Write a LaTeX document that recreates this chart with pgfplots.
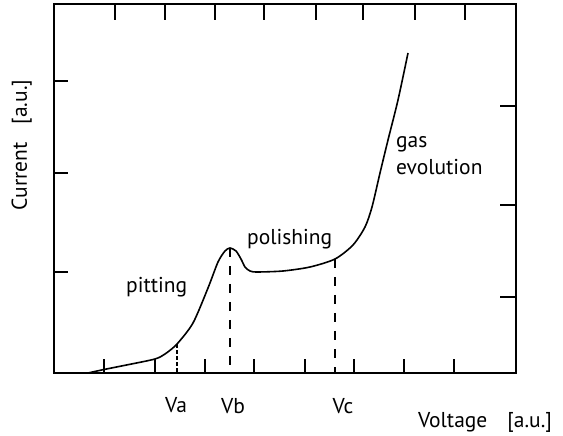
\documentclass[border=0pt]{standalone}
\usepackage{pgfplots}
\pgfplotsset{compat=1.18}
\usepackage{fontspec}
\setmainfont{PT Sans}
\begin{document}
\begin{tikzpicture}[font=\fontsize{21.5bp}{26bp}\selectfont]
\pgfplotsset{
  frame/.style={
    width=462bp, height=369bp, scale only axis,
    xmin=0, xmax=462, ymin=0, ymax=369,
    axis line style={line width=1.4bp},
    tick style={line width=1.4bp, black},
    tick align=inside,
    xticklabel=\empty, yticklabel=\empty,
    clip=false,
  },
}
% top and right ticks
\begin{axis}[frame,
  xtick pos=top, ytick pos=right,
  xtick={61,111,161,210,262,309,361,411},
  ytick={76,168,267},
  major tick length=16bp]
\end{axis}
% bottom and left ticks, curve and annotations
\begin{axis}[frame,
  xtick pos=bottom, ytick pos=left,
  xtick={50,101,151,200,251,300,350,400},
  ytick={101,200,292},
  major tick length=14bp]
\addplot[line width=1.6bp, black, smooth, tension=0.45] coordinates {
  (34,0) (50,3.5) (75,8.5) (101,14) (111,19) (123,29) (139,50) (154,85)
  (164,111) (171,122) (176,125) (182,122) (187,114) (191,106) (196,102)
  (203,101) (229,102) (256,106) (281,114) (299,128) (311,146) (318,166)
  (326,200) (334,233) (344,273) (354,320)};
% Va, Vb, Vc markers
\addplot[line width=1.2bp, black, dash pattern=on 3.5bp off 2.5bp] coordinates {(123,29) (123,0)};
\addplot[line width=1.4bp, black, dash pattern=on 9bp off 9bp] coordinates {(176,125) (176,0)};
\addplot[line width=1.4bp, black, dash pattern=on 9bp off 9bp] coordinates {(281,114) (281,0)};
\node[anchor=base west, inner sep=0pt] at (axis cs:72,81) {pitting};
\node[anchor=base west, inner sep=0pt] at (axis cs:193,128) {polishing};
\node[anchor=base west, inner sep=0pt] at (axis cs:342,225) {gas};
\node[anchor=base west, inner sep=0pt] at (axis cs:342,198) {evolution};
\node[anchor=base, inner sep=0pt] at (axis cs:122,-39) {Va};
\node[anchor=base, inner sep=0pt] at (axis cs:179,-40) {Vb};
\node[anchor=base, inner sep=0pt] at (axis cs:289,-40) {Vc};
\node[anchor=base west, inner sep=0pt] at (axis cs:364,-54) {Voltage\hspace{20bp}[a.u.]};
\node[anchor=base, rotate=90, inner sep=0pt] at (axis cs:-27,228) {Current\hspace{18bp}[a.u.]};
\end{axis}
\pgfresetboundingbox
\path[use as bounding box] (-54bp,-63bp) rectangle (509bp,373bp);
\end{tikzpicture}
\end{document}
